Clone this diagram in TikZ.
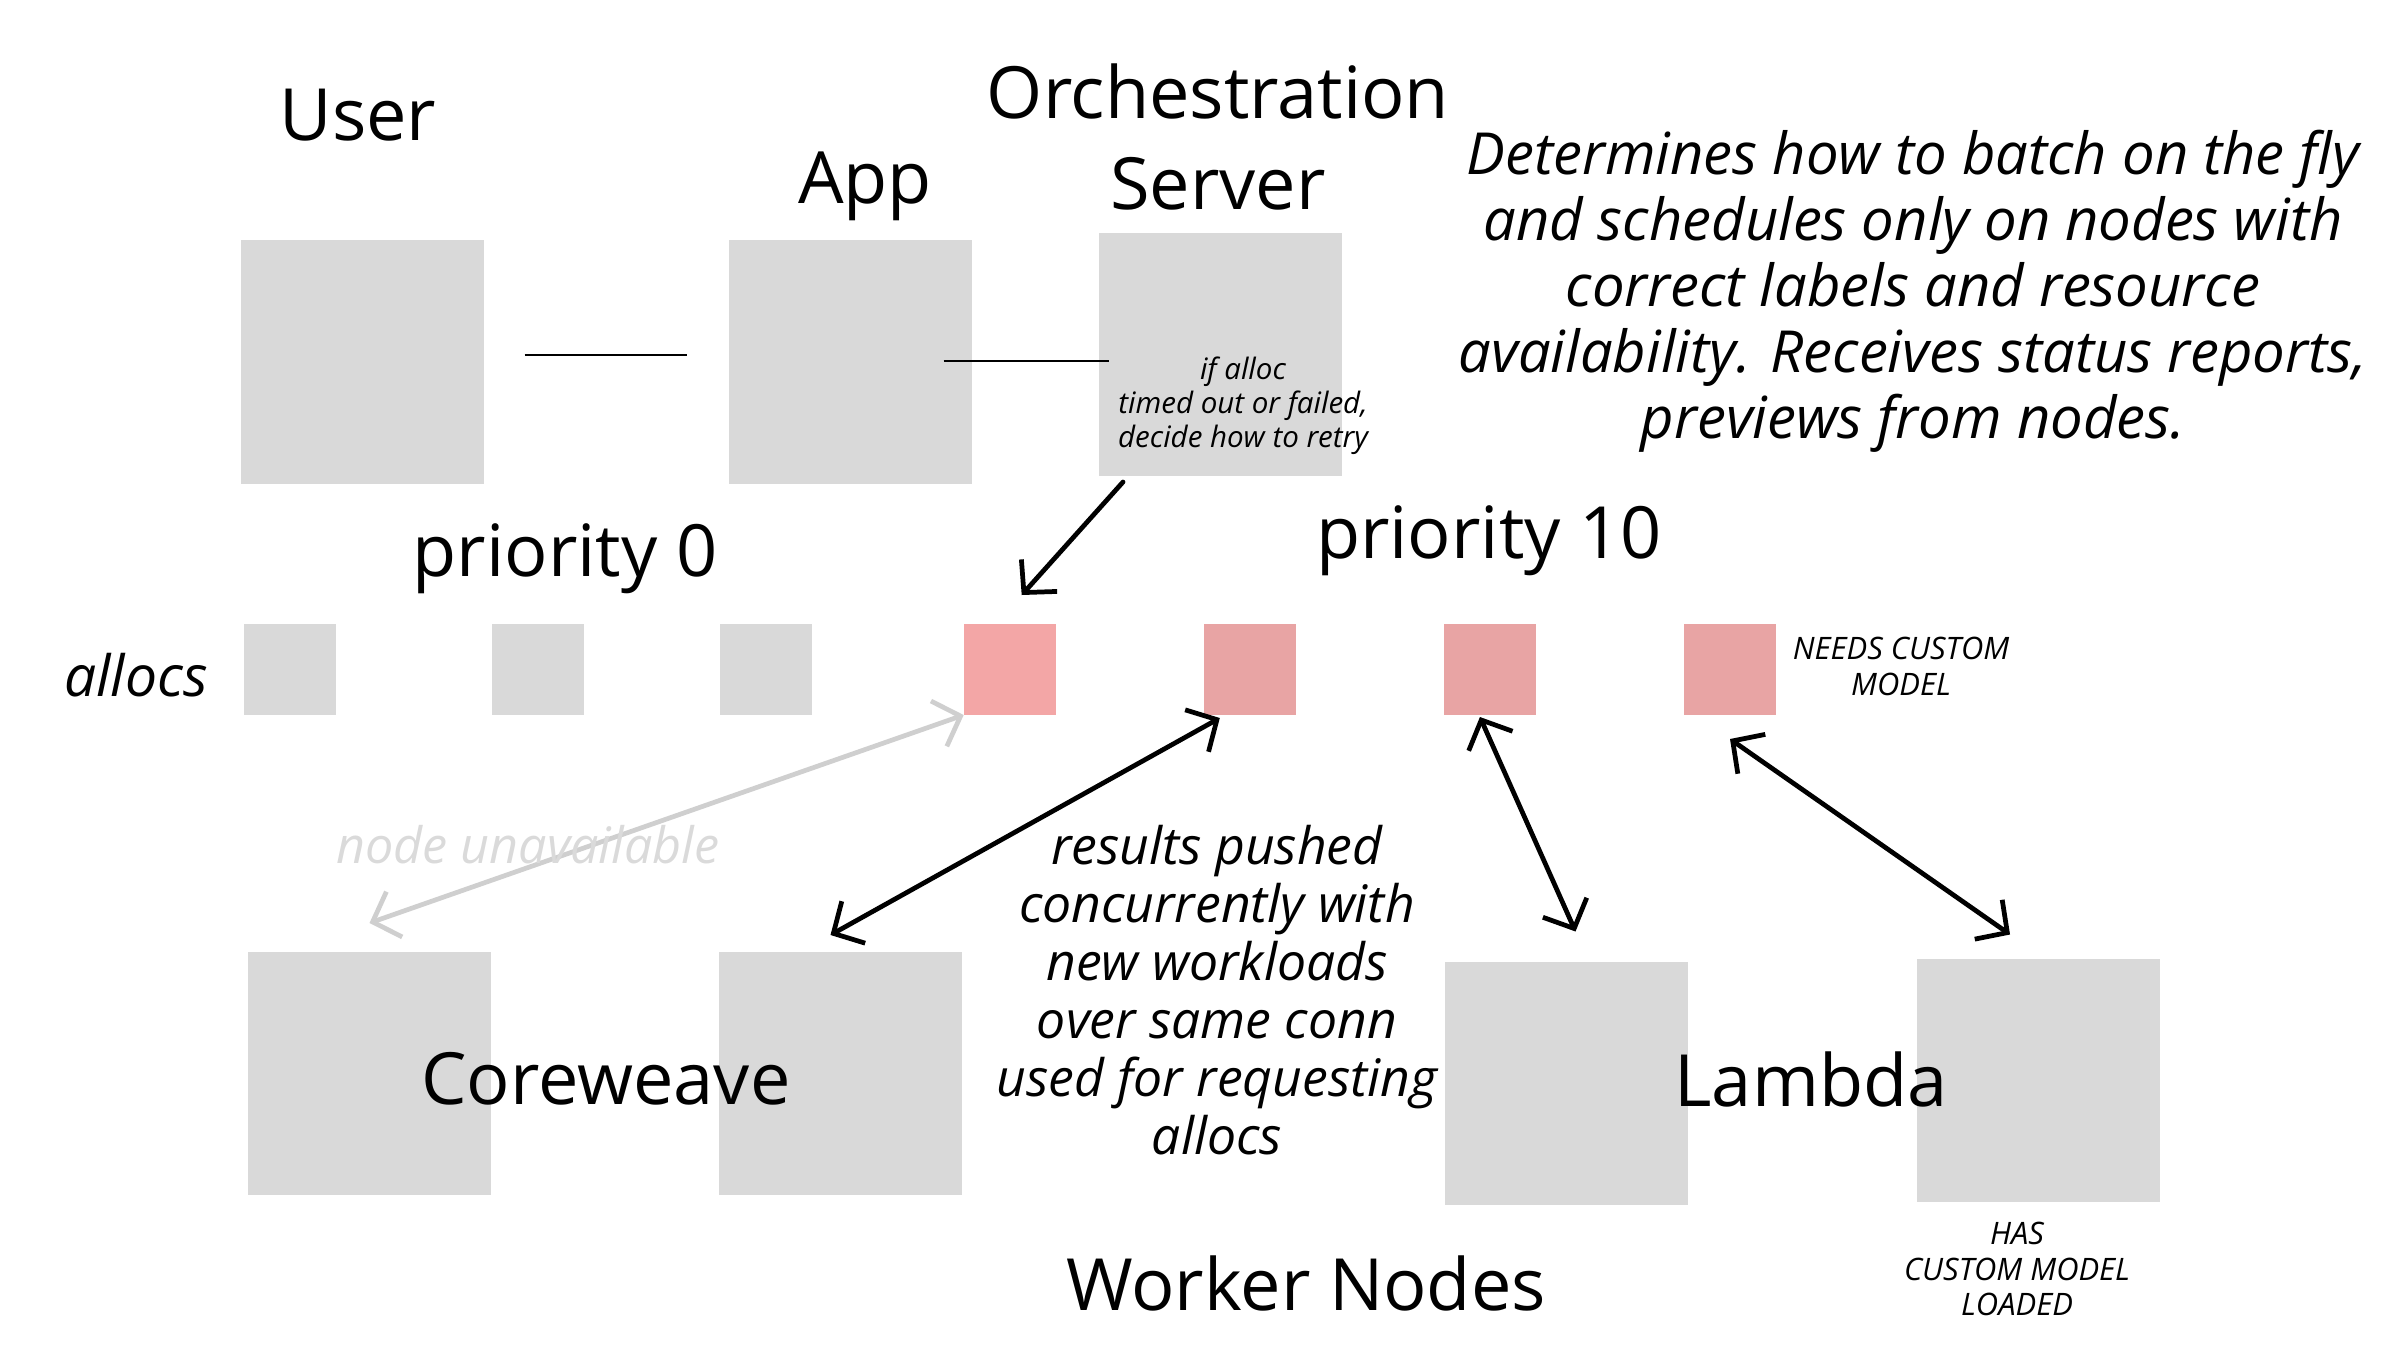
\documentclass[tikz,border=0pt]{standalone}
\usepackage{fontspec}
\setmainfont{Open Sans}
\usetikzlibrary{positioning,arrows.meta}

\definecolor{boxgray}{HTML}{D9D9D9}
\definecolor{allocred}{HTML}{E8A4A4}
\definecolor{allocredlight}{HTML}{F3A6A6}
\definecolor{arrowgray}{HTML}{CFCFCF}
\definecolor{textgray}{HTML}{DADADA}

\begin{document}
\begin{tikzpicture}

\tikzset{
	box/.style={
		rectangle,
		fill=boxgray,
		inner sep=0pt,outer sep=0pt,
		minimum height=2.43cm,minimum width=2.43cm
	}
}

\tikzset{
	alloc/.style={
		rectangle,
		fill=boxgray,
		inner sep=0pt,outer sep=0pt,
		minimum height=0.91cm,minimum width=0.92cm
	}
}

\tikzset{
	bigtitle/.style={
		font=\fontsize{20.5}{26}\selectfont,
		align=center
	}
}

\tikzset{
	note/.style={
		font=\itshape\fontsize{14.7}{16.5}\selectfont,
		align=center
	}
}

\tikzset{
	tiny/.style={
		font=\itshape\fontsize{8.4}{9.7}\selectfont,
		align=center
	}
}

\tikzset{
	link/.style={
		line width=1.35pt,
		line cap=round,
		{Straight Barb[length=2.3mm,width=4.8mm]}-{Straight Barb[length=2.3mm,width=4.8mm]}
	}
}

\def\ecart{1.481cm}

\useasboundingbox (0,0) rectangle (24,13.5);

% user, app, orchestration
\node[box] (user) at (3.62,9.88) {};
\node[box,right=2.45cm of user] (app) {};
\node[box] (orch) at (12.20,9.955) {};
\node[bigtitle] (usertitle) at (3.58,12.35) {User};
\node[bigtitle] (apptitle) at (8.65,11.64) {App};
\node[bigtitle] (orchtitle) at (12.18,12.13) {Orchestration\\Server};
\draw[line width=0.6pt,shorten <=0.41cm,shorten >=0.42cm] ([yshift=0.07cm]user.east) -- ([yshift=0.07cm]app.west);
\draw[line width=0.6pt,shorten <=-0.28cm,shorten >=-0.1cm] ([yshift=0.01cm]app.east) -- ([yshift=0.01cm]app.east -| orch.west);
\node[tiny] (retry) at (12.43,9.44) {if alloc\\timed out or failed,\\decide how to retry};
\node[font=\itshape\fontsize{16.5}{18.8}\selectfont,align=center] (sched) at (19.13,10.59)
	{Determines how to batch on the fly\\and schedules only on nodes with\\correct labels and resource\\availability. Receives status reports,\\previews from nodes.};

% allocs
\node[font=\itshape\fontsize{16.2}{18}\selectfont] (alloclabel) at (1.36,6.75) {allocs};
\node[alloc] (g1) at (2.90,6.805) {};
\node[alloc,right=1.556cm of g1] (g2) {};
\node[alloc,right=1.36cm of g2] (g3) {};
\node[alloc,fill=allocredlight,right=1.521cm of g3] (r1) {};
\node[alloc,fill=allocred,right=\ecart of r1] (r2) {};
\node[alloc,fill=allocred,right=\ecart of r2] (r3) {};
\node[alloc,fill=allocred,right=\ecart of r3] (r4) {};
\node[bigtitle] (prio0) at (5.65,7.91) {priority 0};
\node[bigtitle] (prio10) at (14.89,8.09) {priority 10};
\node[tiny,font=\itshape\fontsize{8.8}{10}\selectfont] (needs) at (19.01,6.835) {NEEDS CUSTOM\\MODEL};

% worker nodes
\node[box] (cw1) at (3.695,2.765) {};
\node[box,right=2.28cm of cw1] (cw2) {};
\node[box] (lb1) at (15.665,2.67) {};
\node[box] (lb2) at (20.38,2.70) {};
\node[bigtitle] (coreweave) at (6.06,2.71) {Coreweave};
\node[bigtitle] (lambda) at (18.11,2.71) {Lambda};
\node[bigtitle] (workers) at (13.06,0.67) {Worker Nodes};
\node[tiny,font=\itshape\fontsize{8.8}{10}\selectfont] (hasmodel) at (20.17,0.81) {HAS\\CUSTOM MODEL\\LOADED};
\node[note] (results) at (12.17,3.6) {results pushed\\concurrently with\\new workloads\\over same conn\\used for requesting\\allocs};

% connections
\draw[link,draw=arrowgray] ([yshift=0.29cm]cw1.north) -- (r1.south west);
\node[note,font=\itshape\fontsize{14.3}{16}\selectfont,text=textgray] (unavail) at (5.28,5.05) {node unavailable};
\draw[link,-{Straight Barb[length=2.3mm,width=4.8mm]}] ([xshift=-0.97cm,yshift=-0.06cm]orch.south) -- ([xshift=0.12cm,yshift=0.29cm]r1.north);
\draw[link] ([xshift=-0.1cm,yshift=0.17cm]cw2.north) -- ([xshift=-0.3cm,yshift=-0.03cm]r2.south);
\draw[link] ([xshift=-0.1cm,yshift=-0.02cm]r3.south) -- ([xshift=0.09cm,yshift=0.3cm]lb1.north);
\draw[link] ([yshift=-0.24cm]r4.south) -- ([xshift=-0.28cm,yshift=0.24cm]lb2.north);

\end{tikzpicture}
\end{document}
